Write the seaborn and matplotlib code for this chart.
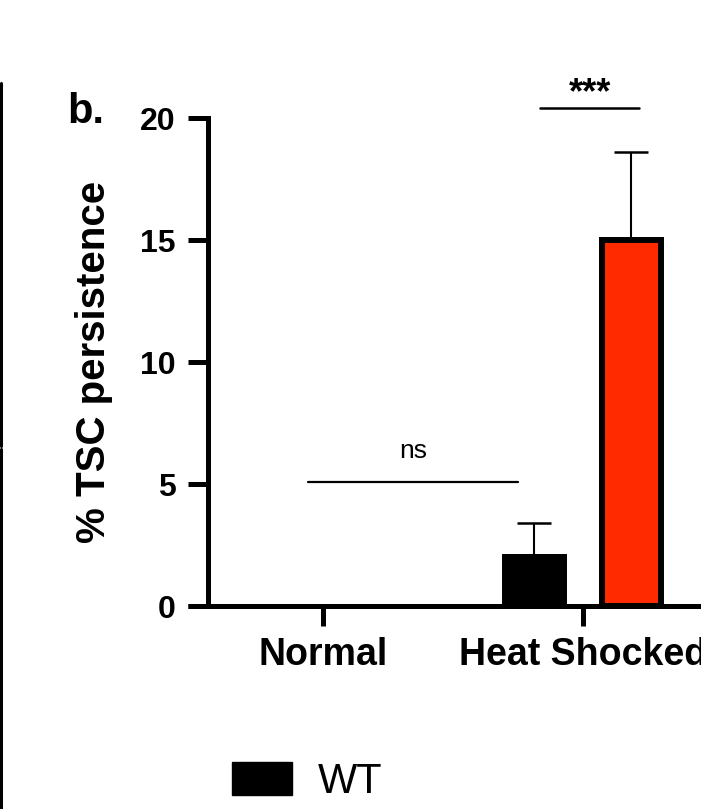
import numpy as np
import pandas as pd
import matplotlib.pyplot as plt
from matplotlib.patches import Patch
from matplotlib.lines import Line2D
import seaborn as sns

# DATA

conditions = ["Normal", "Heat Shocked"]
genotypes = ["WT", "Mutant"]
wt_mean = [0.0, 2.0]
wt_sd = [0.0, 1.4]
mut_mean = [0.0, 15.0]
mut_sd = [0.0, 3.6]
yticks = [0, 5, 10, 15, 20]

df = pd.DataFrame({
    "condition": conditions * 2,
    "genotype": ["WT"] * 2 + ["Mutant"] * 2,
    "persistence": wt_mean + mut_mean,
    "sd": wt_sd + mut_sd,
})

sns.set_style("ticks")
plt.rcParams["font.family"] = ["Liberation Sans", "DejaVu Sans"]
plt.rcParams["text.color"] = "black"
plt.rcParams["axes.labelcolor"] = "black"
plt.rcParams["xtick.color"] = "black"
plt.rcParams["ytick.color"] = "black"
plt.rcParams["axes.edgecolor"] = "black"

fig = plt.figure(figsize=(7.01, 8.09), dpi=100)
ax = fig.add_axes([0.2967, 0.2509, 0.7575, 0.6032])

sns.barplot(
    data=df, x="condition", y="persistence", hue="genotype",
    order=conditions, hue_order=genotypes,
    palette=["black", "#ff2a00"], saturation=1,
    width=0.746, gap=0.39, errorbar=None,
    edgecolor="black", linewidth=4.3,
    legend=False, ax=ax
)

# error bars (upper only) on top of each bar
for cont, g in zip(ax.containers, genotypes):
    sds = df[df["genotype"] == g].set_index("condition").loc[conditions, "sd"].values
    for bar, sd in zip(cont, sds):
        h = bar.get_height()
        if h == 0:
            bar.set_visible(False)
            continue
        xc = bar.get_x() + bar.get_width() / 2
        ax.errorbar(xc, h, yerr=[[0], [sd]], fmt="none", ecolor="black",
                    elinewidth=1.5, capsize=12, capthick=1.8, zorder=1)

ax.set_xlim(-0.442, 1.6)
ax.set_ylim(0, 20)
ax.set_yticks(yticks)

for s in ["top", "right", "bottom"]:
    ax.spines[s].set_visible(False)
ax.spines["left"].set_linewidth(3.6)

# x axis line, extends a bit left of the y axis
ax.plot([-0.519, 1.7], [0, 0], color="black", lw=3.6, clip_on=False,
        solid_capstyle="butt", zorder=5)

ax.tick_params(axis="both", direction="out", length=14.4, width=3.6, color="black")
ax.tick_params(axis="y", pad=9, labelsize=23)
ax.tick_params(axis="x", pad=8, labelsize=27)
for lab in ax.get_xticklabels() + ax.get_yticklabels():
    lab.set_fontweight("bold")

ax.set_xlabel("")
ax.set_ylabel("% TSC persistence", fontsize=29, fontweight="bold")
ax.yaxis.set_label_coords(-0.179, 0.5)

# significance annotations
ax.plot([0.835, 1.215], [20.4, 20.4], color="black", lw=1.8, clip_on=False)
ax.text(1.027, 20.6, "***", ha="center", va="baseline", fontsize=26,
        fontweight="bold", clip_on=False)
ax.plot([-0.058, 0.75], [5.08, 5.08], color="black", lw=1.6)
ax.text(0.346, 6.07, "ns", ha="center", va="baseline", fontsize=19)

# panel label
fig.text(67 / 701, 1 - 123 / 809, "b.", fontsize=30, fontweight="bold",
         ha="left", va="baseline")

# legend
fig.legend(handles=[Patch(facecolor="black", edgecolor="black")], labels=["WT"],
           loc="center left", bbox_to_anchor=(232 / 701, 1 - 782 / 809),
           frameon=False, fontsize=30, handlelength=1.44, handleheight=0.86,
           handletextpad=0.62, borderpad=0, borderaxespad=0)

# edge of neighbouring panel
fig.add_artist(Line2D([0.0021, 0.0021], [1 - 83 / 809, 1 - 446 / 809], color="black", lw=2.2))
fig.add_artist(Line2D([0.0021, 0.0021], [1 - 449 / 809, 0], color="black", lw=2.2))

fig.savefig("out.png", dpi=100)
